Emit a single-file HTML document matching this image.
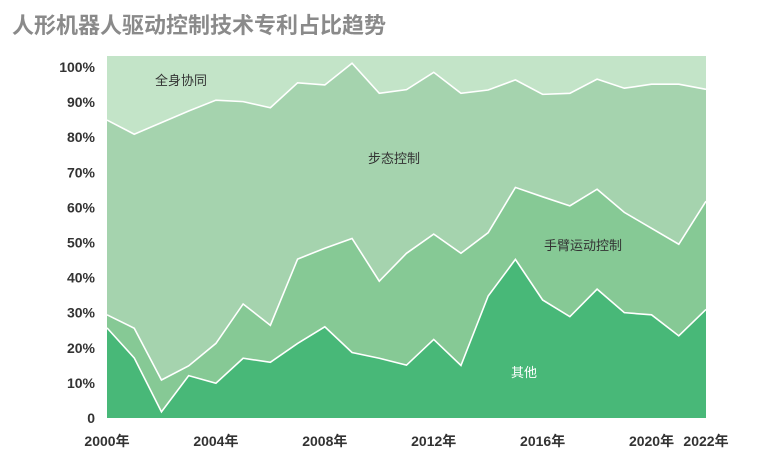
<!DOCTYPE html>
<html><head><meta charset="utf-8"><style>
body{margin:0;background:#fff;width:767px;height:470px;overflow:hidden;font-family:"Liberation Sans","Noto Sans CJK SC",sans-serif}
</style></head><body>
<svg id="chart" width="767" height="470" xmlns="http://www.w3.org/2000/svg">
<text x="12" y="33" font-size="22" font-weight="bold" fill="#8a8a8a" font-family="Liberation Sans, Noto Sans CJK SC, sans-serif">人形机器人驱动控制技术专利占比趋势</text>
<g id="areas"></g><g id="lines"></g><g id="yticks"></g><g id="xticks"></g>
<text x="155" y="85" font-size="13" fill="#333" font-family="Liberation Sans, Noto Sans CJK SC, sans-serif">全身协同</text>
<text x="368" y="163" font-size="13" fill="#333" font-family="Liberation Sans, Noto Sans CJK SC, sans-serif">步态控制</text>
<text x="544" y="250" font-size="13" fill="#333" font-family="Liberation Sans, Noto Sans CJK SC, sans-serif">手臂运动控制</text>
<text x="511" y="377" font-size="13" fill="#fff" font-family="Liberation Sans, Noto Sans CJK SC, sans-serif">其他</text>
</svg>
<script>
const years=[2000,2001,2002,2003,2004,2005,2006,2007,2008,2009,2010,2011,2012,2013,2014,2015,2016,2017,2018,2019,2020,2021,2022];
const other=[24.9,16.6,1.7,11.7,9.6,16.5,15.4,20.6,25.2,18.1,16.5,14.6,21.7,14.5,33.7,43.8,32.6,28.0,35.6,29.1,28.5,22.7,30.0];
const arm=[3.6,8.2,8.8,2.7,11.0,15.0,10.2,23.3,21.7,31.5,21.3,30.9,29.1,31.0,17.5,19.9,28.5,30.6,27.6,27.7,23.9,25.3,29.9];
const gait=[53.8,53.6,71.1,70.4,67.2,55.9,60.1,48.7,45.1,48.4,51.9,45.2,44.7,44.2,39.4,29.7,28.3,31.1,30.4,34.3,39.8,44.2,30.9];
const whole=[17.7,21.6,18.4,15.2,12.2,12.6,14.3,7.4,8.0,2.0,10.3,9.3,4.5,10.3,9.4,6.6,10.6,10.3,6.4,8.9,7.8,7.8,9.2];
const yTickVals=[0,10,20,30,40,50,60,70,80,90,100];
const yTickLabels=["0","10%","20%","30%","40%","50%","60%","70%","80%","90%","100%"];
const xTickYears=[2000,2004,2008,2012,2016,2020,2022];
const NS="http://www.w3.org/2000/svg";
const x=y=>107+(y-2000)*(599/22);
const yv=v=>418-v*3.62;
const ylab=v=>418-v*3.51;
const series=[other,arm,gait,whole];
const names=['area-other','area-arm-motion','area-gait','area-whole-body'];
const colors=['#48b878','#86c995','#a5d3ae','#c3e4c8'];
let base=years.map(()=>0);
const A=document.getElementById('areas'),L=document.getElementById('lines');
series.forEach((s,i)=>{
  const top=base.map((b,j)=>b+s[j]);
  const up=years.map((yr,j)=>x(yr)+','+yv(top[j]));
  const down=years.map((yr,j)=>x(yr)+','+yv(base[j])).reverse();
  const p=document.createElementNS(NS,'polygon');
  p.setAttribute('points',up.concat(down).join(' '));
  p.setAttribute('fill',colors[i]);
  
  
  A.appendChild(p);
  if(i<3){
    const l=document.createElementNS(NS,'polyline');
    l.setAttribute('points',up.join(' '));
    l.setAttribute('fill','none');l.setAttribute('stroke','#fff');l.setAttribute('stroke-width','1.6');
    
    
    L.appendChild(l);
  }
  base=top;
});
const Y=document.getElementById('yticks');
yTickVals.forEach((v,i)=>{
  const t=document.createElementNS(NS,'text');
  t.setAttribute('x',95);t.setAttribute('y',ylab(v)+5);t.setAttribute('text-anchor','end');
  t.setAttribute('font-size','14');t.setAttribute('font-weight','bold');t.setAttribute('fill','#333');
  
  
  t.textContent=yTickLabels[i];Y.appendChild(t);
});
const X=document.getElementById('xticks');
xTickYears.forEach(yr=>{
  const t=document.createElementNS(NS,'text');
  t.setAttribute('x',x(yr));t.setAttribute('y',446);t.setAttribute('text-anchor','middle');
  t.setAttribute('font-size','14');t.setAttribute('font-weight','bold');t.setAttribute('fill','#333');
  t.setAttribute('font-family','Liberation Sans, Noto Sans CJK SC, sans-serif');
  
  
  t.textContent=yr+'年';X.appendChild(t);
});
</script>
</body></html>
